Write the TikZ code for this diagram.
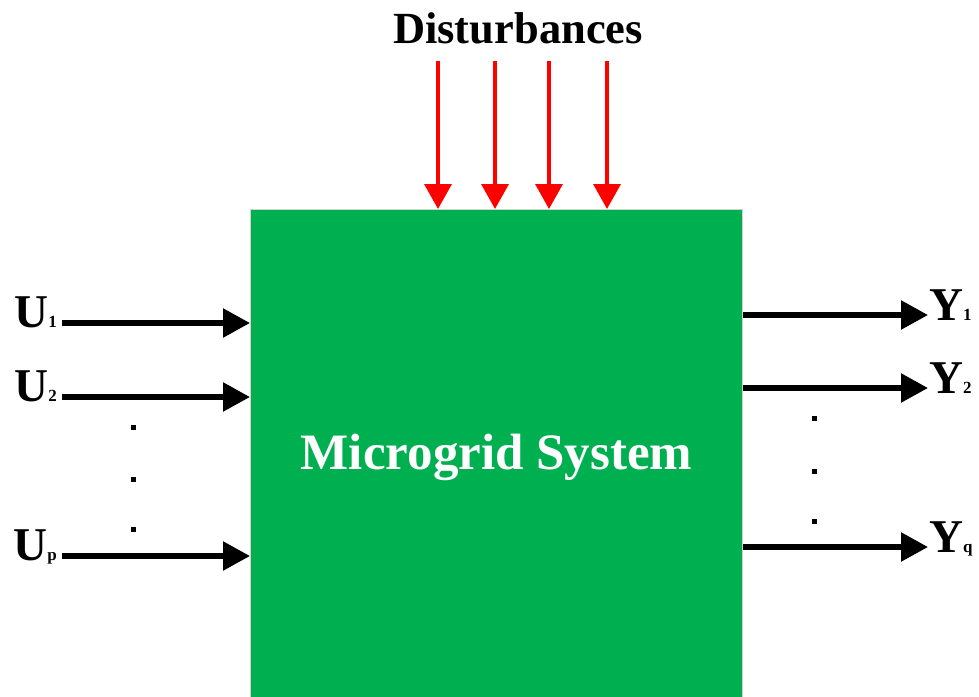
\documentclass[tikz,border=0pt]{standalone}
\usepackage{fontspec}
\setmainfont{Liberation Serif}
\usetikzlibrary{positioning,arrows.meta}
\definecolor{mgreen}{HTML}{00B050}
\newcommand{\sub}[1]{{\fontsize{17}{17}\selectfont #1}}

\begin{document}
\begin{tikzpicture}[
    x=1pt, y=-1pt,
    sysbox/.style={rectangle, draw=gray!35, line width=1pt, fill=mgreen,
                   inner sep=0pt, minimum width=492pt, minimum height=496pt,
                   text=white, font=\fontsize{51}{51}\selectfont\bfseries},
    inarr/.style={line width=5.5pt, -{Triangle[length=27pt, width=28pt]}},
    disarr/.style={line width=3.5pt, red, -{Triangle[length=25pt, width=27pt]}},
    sig/.style={font=\fontsize{47}{47}\selectfont\bfseries, inner sep=0pt},
    vdot/.style={rectangle, fill=black, minimum size=5pt, inner sep=0pt},
]
\useasboundingbox (0,0) rectangle (979,696);

% Plant block
\node[sysbox, anchor=north west] (sys) at (250,209) {Microgrid System};

% Disturbances from above
\node[font=\fontsize{44.5}{44.5}\selectfont\bfseries, anchor=base, inner sep=0pt]
    (dist) at (518,43) {Disturbances};
\foreach \i/\x in {1/438, 2/495, 3/549, 4/607} {
    \coordinate (d\i) at (\x,61);
    \draw[disarr] (d\i) -- (d\i |- sys.north);
}

% Inputs on the left
\foreach \i/\y in {1/323, 2/397, p/556} {
    \coordinate (u\i) at (62,\y);
    \draw[inarr] (u\i) -- (u\i -| sys.west);
    \node[sig, anchor=base east] (lu\i) at ([xshift=-5pt, yshift=-4pt]u\i)
        {U\sub{\i}};
}
\foreach \j/\y in {1/427, 2/479, 3/529}
    \node[vdot] (ud\j) at (133,\y) {};

% Outputs on the right
\foreach \i/\y in {1/315, 2/388, q/547} {
    \coordinate (y\i) at (928,\y);
    \draw[inarr] (y\i -| sys.east) -- (y\i);
    \node[sig, anchor=base west] (ly\i) at ([xshift=1pt, yshift=-5pt]y\i)
        {Y\sub{\i}};
}
\foreach \j/\y in {1/418, 2/471, 3/521}
    \node[vdot] (yd\j) at (814,\y) {};
\end{tikzpicture}
\end{document}
